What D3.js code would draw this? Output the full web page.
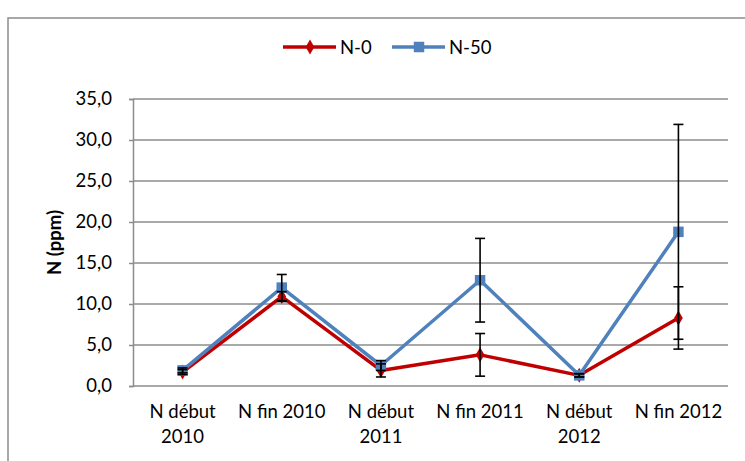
<!DOCTYPE html>
<html>
<head>
<meta charset="utf-8">
<script src="https://cdn.jsdelivr.net/npm/d3@7"></script>
<style>
  body { margin: 0; background: #fff; }
  svg { display: block; font-family: "Lato", "Open Sans", sans-serif; }
</style>
</head>
<body>
<div id="chart"></div>
<script>
// categories and series
var CATEGORIES = [["N début", "2010"], ["N fin 2010"], ["N début", "2011"], ["N fin 2011"], ["N début", "2012"], ["N fin 2012"]];
var N0 = [1.7, 10.9, 1.9, 3.8, 1.3, 8.3];
var N0_ERR = [0.3, 0.6, 0.8, 2.6, 0.2, 3.8];
var N50 = [1.9, 12.0, 2.5, 12.9, 1.3, 18.8];
var N50_ERR = [0.3, 1.6, 0.6, 5.1, 0.2, 13.1];
var Y_TICKS = [0, 5, 10, 15, 20, 25, 30, 35];

(function () {
  "use strict";

  var W = 745, H = 461;
  var FS = 18.5;
  var plot = { left: 133, right: 728, top: 99, bottom: 386 };

  var svg = d3.select("#chart").append("svg")
    .attr("width", W).attr("height", H);

  // outer chart frame (runs off the right and bottom edges)
  svg.append("rect")
    .attr("x", 8).attr("y", 18)
    .attr("width", W + 10).attr("height", H + 10)
    .attr("fill", "none").attr("stroke", "#8c8c8c").attr("stroke-width", 1.5);

  var idx = CATEGORIES.map(function (d, i) { return i; });
  var x = d3.scaleBand().domain(idx).range([plot.left, plot.right]);
  var y = d3.scaleLinear().domain([0, 35]).range([plot.bottom, plot.top]);
  var cx = function (i) { return x(i) + x.bandwidth() / 2; };

  // gridlines
  svg.append("g").selectAll("line")
    .data(Y_TICKS.slice(1))
    .enter().append("line")
    .attr("x1", plot.left).attr("x2", plot.right)
    .attr("y1", function (d) { return y(d); }).attr("y2", function (d) { return y(d); })
    .attr("stroke", "#8c8c8c").attr("stroke-width", 1.5);

  // y axis
  var yAxis = svg.append("g")
    .attr("transform", "translate(" + plot.left + ",0)")
    .call(d3.axisLeft(y).tickValues(Y_TICKS).tickSize(4).tickPadding(17)
      .tickFormat(function (d) { return d3.format(".1f")(d).replace(".", ","); }));
  yAxis.select(".domain").attr("stroke", "#8c8c8c").attr("stroke-width", 1.5);
  yAxis.selectAll(".tick line").attr("stroke", "#8c8c8c").attr("stroke-width", 1.5);
  yAxis.selectAll(".tick text").attr("font-size", FS).attr("fill", "#000")
    .attr("font-family", "Lato, 'Open Sans', sans-serif");

  // x axis
  svg.append("line")
    .attr("x1", plot.left).attr("x2", plot.right)
    .attr("y1", plot.bottom).attr("y2", plot.bottom)
    .attr("stroke", "#8c8c8c").attr("stroke-width", 1.5);

  var xl = svg.append("g").selectAll("text")
    .data(CATEGORIES)
    .enter().append("text")
    .attr("x", function (d, i) { return cx(i); })
    .attr("y", 418)
    .attr("text-anchor", "middle")
    .attr("font-size", FS)
    .attr("fill", "#000");
  xl.selectAll("tspan")
    .data(function (d) { return d; })
    .enter().append("tspan")
    .attr("x", function () { return d3.select(this.parentNode).attr("x"); })
    .attr("dy", function (d, j) { return j === 0 ? 0 : 25; })
    .text(function (d) { return d; });

  // y label
  svg.append("text")
    .attr("transform", "translate(61," + ((plot.top + plot.bottom) / 2) + ") rotate(-90)")
    .attr("text-anchor", "middle")
    .attr("font-size", FS).attr("font-weight", "bold")
    .text("N (ppm)");

  var series = [
    { name: "N-0", values: N0, err: N0_ERR, color: "#C00000", marker: "diamond" },
    { name: "N-50", values: N50, err: N50_ERR, color: "#4F81BD", marker: "square" }
  ];

  function symbolFor(s) {
    return s.marker === "diamond"
      ? d3.symbol().type(d3.symbolDiamond).size(65)
      : d3.symbol().type(d3.symbolSquare).size(110);
  }

  var line = d3.line()
    .x(function (d, i) { return cx(i); })
    .y(function (d) { return y(d); });

  series.forEach(function (s) {
    svg.append("path")
      .attr("d", line(s.values))
      .attr("fill", "none")
      .attr("stroke", s.color)
      .attr("stroke-width", 3.5)
      .attr("stroke-linejoin", "round");

    svg.append("g").selectAll("path")
      .data(s.values)
      .enter().append("path")
      .attr("d", symbolFor(s))
      .attr("transform", function (d, i) { return "translate(" + cx(i) + "," + y(d) + ")"; })
      .attr("fill", s.color);
  });

  // error bars on top
  series.forEach(function (s) {
    var g = svg.append("g").attr("stroke", "#000").attr("stroke-width", 1.6);
    s.values.forEach(function (v, i) {
      var top = y(v + s.err[i]), bot = y(Math.max(0, v - s.err[i]));
      g.append("line").attr("x1", cx(i)).attr("x2", cx(i)).attr("y1", top).attr("y2", bot);
      g.append("line").attr("x1", cx(i) - 5).attr("x2", cx(i) + 5).attr("y1", top).attr("y2", top);
      g.append("line").attr("x1", cx(i) - 5).attr("x2", cx(i) + 5).attr("y1", bot).attr("y2", bot);
    });
  });

  // legend
  var legend = svg.append("g").attr("transform", "translate(283,47)");
  var lx = [0, 109];
  series.forEach(function (s, k) {
    var g = legend.append("g").attr("transform", "translate(" + lx[k] + ",0)");
    g.append("line").attr("x1", 0).attr("x2", 53).attr("y1", 0).attr("y2", 0)
      .attr("stroke", s.color).attr("stroke-width", 3.5);
    g.append("path").attr("d", symbolFor(s)).attr("transform", "translate(27,0)").attr("fill", s.color);
    g.append("text").attr("x", 57).attr("y", 7).attr("font-size", FS).text(s.name);
  });
})();
</script>
</body>
</html>
